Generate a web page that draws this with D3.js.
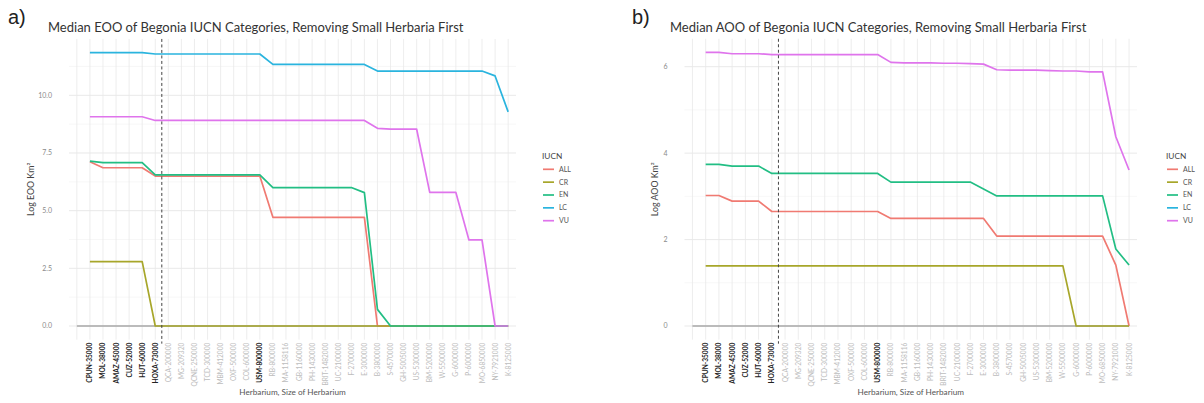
<!DOCTYPE html>
<html>
<head>
<meta charset="utf-8">
<script src="https://cdn.jsdelivr.net/npm/d3@7"></script>
<style>
  body { margin: 0; background: #fff; }
  svg { font-family: Lato, "Open Sans", sans-serif; }
</style>
</head>
<body>
<svg id="chart" width="1204" height="403"></svg>
<script>
const herbaria = ["CPUN-35000", "MOL-38000", "AMAZ-45000", "CUZ-52000", "HUT-60000", "HOXA-73000",
  "QCA-200000", "MG-209320", "QCNE-250000", "TCD-300000", "MBM-412000", "OXF-500000", "COL-600000",
  "USM-800000", "RB-800000", "MA-1158116", "GB-1160000", "PH-1430000", "BRIT-1482000", "UC-2100000",
  "F-2700000", "E-3000000", "B-3800000", "S-4570000", "GH-5005000", "US-5300000", "BM-5200000",
  "W-5500000", "G-6000000", "P-6000000", "MO-6850000", "NY-7921000", "K-8125000"];
const highlighted = ["CPUN-35000", "MOL-38000", "AMAZ-45000", "CUZ-52000", "HUT-60000", "HOXA-73000", "USM-800000"];
const cutAfter = "HOXA-73000";
const categories = ["ALL", "CR", "EN", "LC", "VU"];

// EOO medians (log km²)
const eooAll = [7.12, 6.86, 6.86, 6.86, 6.86, 6.5, 6.5, 6.5, 6.5, 6.5, 6.5, 6.5, 6.5, 6.5,
  4.71, 4.71, 4.71, 4.71, 4.71, 4.71, 4.71, 4.71, 0, 0, 0, 0, 0, 0, 0, 0, 0, 0, 0];
const eooCR = [2.79, 2.79, 2.79, 2.79, 2.79, 0, 0, 0, 0, 0, 0, 0, 0, 0, 0, 0, 0, 0, 0, 0,
  0, 0, 0, 0, 0, 0, 0, 0, 0, 0, 0, 0, 0];
const eooEN = [7.15, 7.08, 7.08, 7.08, 7.08, 6.55, 6.55, 6.55, 6.55, 6.55, 6.55, 6.55, 6.55, 6.55,
  6.0, 6.0, 6.0, 6.0, 6.0, 6.0, 6.0, 5.78, 0.72, 0, 0, 0, 0, 0, 0, 0, 0, 0, 0];
const eooLC = [11.85, 11.85, 11.85, 11.85, 11.85, 11.79, 11.79, 11.79, 11.79, 11.79, 11.79, 11.79, 11.79, 11.79,
  11.34, 11.34, 11.34, 11.34, 11.34, 11.34, 11.34, 11.34, 11.05, 11.05, 11.05, 11.05, 11.05, 11.05,
  11.05, 11.05, 11.05, 10.84, 9.28];
const eooVU = [9.07, 9.07, 9.07, 9.07, 9.07, 8.91, 8.91, 8.91, 8.91, 8.91, 8.91, 8.91, 8.91, 8.91,
  8.91, 8.91, 8.91, 8.91, 8.91, 8.91, 8.91, 8.91, 8.57, 8.53, 8.53, 8.53, 5.79, 5.79, 5.79,
  3.73, 3.73, 0, 0];
// unassigned herbarium row (grey baseline), starts one slot before CPUN
const eooNA = [0, 0, 0, 0, 0, 0, 0, 0, 0, 0, 0, 0, 0, 0, 0, 0, 0, 0, 0, 0, 0, 0, 0, 0, 0, 0, 0, 0, 0, 0, 0, 0, 0, 0];

// AOO medians (log km²)
const aooAll = [3.02, 3.02, 2.89, 2.89, 2.89, 2.65, 2.65, 2.65, 2.65, 2.65, 2.65, 2.65, 2.65, 2.65,
  2.49, 2.49, 2.49, 2.49, 2.49, 2.49, 2.49, 2.49, 2.08, 2.08, 2.08, 2.08, 2.08, 2.08, 2.08, 2.08, 2.08,
  1.41, 0];
const aooCR = [1.39, 1.39, 1.39, 1.39, 1.39, 1.39, 1.39, 1.39, 1.39, 1.39, 1.39, 1.39, 1.39, 1.39,
  1.39, 1.39, 1.39, 1.39, 1.39, 1.39, 1.39, 1.39, 1.39, 1.39, 1.39, 1.39, 1.39, 1.39, 0, 0, 0, 0, 0];
const aooEN = [3.74, 3.74, 3.70, 3.70, 3.70, 3.53, 3.53, 3.53, 3.53, 3.53, 3.53, 3.53, 3.53, 3.53,
  3.33, 3.33, 3.33, 3.33, 3.33, 3.33, 3.33, 3.17, 3.01, 3.01, 3.01, 3.01, 3.01, 3.01, 3.01, 3.01, 3.01,
  1.78, 1.41];
const aooLC = null;
const aooVU = [6.33, 6.33, 6.30, 6.30, 6.30, 6.28, 6.28, 6.28, 6.28, 6.28, 6.28, 6.28, 6.28, 6.28,
  6.10, 6.09, 6.09, 6.09, 6.08, 6.08, 6.07, 6.06, 5.93, 5.92, 5.92, 5.92, 5.91, 5.90, 5.90, 5.88, 5.88,
  4.38, 3.61];
const aooNA = [0, 0, 0, 0, 0, 0, 0, 0, 0, 0, 0, 0, 0, 0, 0, 0, 0, 0, 0, 0, 0, 0, 0, 0, 0, 0, 0, 0, 0, 0, 0, 0, 0, 0];

const eooTicks = [0, 2.5, 5, 7.5, 10];
const eooMinor = [1.25, 3.75, 6.25, 8.75, 11.25];
const aooTicks = [0, 2, 4, 6];
const aooMinor = [1, 3, 5];

const colors = d3.scaleOrdinal().domain(categories)
  .range(["#F07A72", "#A7A62A", "#22BE84", "#2AB4DE", "#DF74EC"]);

const svg = d3.select("#chart");

function drawPanel(opt) {
  const g = svg.append("g");
  const slots = [""].concat(herbaria);
  const x = d3.scalePoint().domain(slots).range([opt.left, opt.right]).padding(0.6);
  const y = d3.scaleLinear().domain([0, opt.ticks[opt.ticks.length - 1]]).range(opt.yRange);
  const maxV = d3.max(opt.series.filter(s => s.values), s => d3.max(s.values));
  const top = y(maxV * 1.05), bottom = y(-maxV * 0.05);

  // grid
  g.selectAll(".minor").data(opt.minor).join("line")
    .attr("x1", opt.left).attr("x2", opt.right)
    .attr("y1", d => y(d)).attr("y2", d => y(d))
    .attr("stroke", "#f2f2f2").attr("stroke-width", 0.6);
  g.selectAll(".major").data(opt.ticks).join("line")
    .attr("x1", opt.left).attr("x2", opt.right)
    .attr("y1", d => y(d)).attr("y2", d => y(d))
    .attr("stroke", "#e6e6e6").attr("stroke-width", 0.9);
  g.selectAll(".vgrid").data(slots).join("line")
    .attr("x1", d => x(d)).attr("x2", d => x(d))
    .attr("y1", top).attr("y2", bottom)
    .attr("stroke", "#e9e9e9").attr("stroke-width", 0.8);

  // y tick labels
  g.selectAll(".ytick").data(opt.ticks).join("text")
    .attr("x", opt.left - 17).attr("y", d => y(d)).attr("dy", "0.35em")
    .attr("text-anchor", "end").attr("font-size", 7).attr("fill", "#8a8a8a")
    .text(opt.fmt);

  // x tick labels
  g.selectAll(".xtick").data(herbaria).join("text")
    .attr("transform", d => `translate(${x(d) + 2.5},${bottom + 3}) rotate(-90)`)
    .attr("text-anchor", "end").attr("font-size", 6.6)
    .attr("font-weight", d => highlighted.includes(d) ? 700 : 400)
    .attr("fill", d => highlighted.includes(d) ? "#222" : "#bdbdbd")
    .text(d => d);

  // baseline row without category
  const line = d3.line().x(d => x(d[0])).y(d => y(d[1]));
  g.append("path")
    .attr("d", line(opt.na.map((v, i) => [slots[i], v])))
    .attr("fill", "none").attr("stroke", "#a8a8a8").attr("stroke-width", 1.7);

  opt.series.forEach(s => {
    if (!s.values) return;
    g.append("path")
      .attr("d", line(s.values.map((v, i) => [herbaria[i], v])))
      .attr("fill", "none").attr("stroke", colors(s.key))
      .attr("stroke-width", 1.7).attr("stroke-linejoin", "round");
  });

  // cut-off marker
  const cx = (x(cutAfter) + x(herbaria[herbaria.indexOf(cutAfter) + 1])) / 2;
  g.append("line")
    .attr("x1", cx).attr("x2", cx).attr("y1", top).attr("y2", bottom + 4)
    .attr("stroke", "#444").attr("stroke-width", 1).attr("stroke-dasharray", "3,2.5");

  // titles
  g.append("text").attr("x", opt.tagX).attr("y", 24).attr("font-size", 20)
    .attr("font-family", "Liberation Sans, Arial, sans-serif").attr("fill", "#222").text(opt.tag);
  g.append("text").attr("x", opt.titleX).attr("y", 32).attr("font-size", 13)
    .attr("fill", "#333").text(opt.title);
  g.append("text")
    .attr("transform", `translate(${opt.yTitleX},${(top + bottom) / 2}) rotate(-90)`)
    .attr("text-anchor", "middle").attr("font-size", 8.8).attr("fill", "#444")
    .text(opt.yTitle);
  g.append("text").attr("x", (opt.left + opt.right) / 2).attr("y", 395)
    .attr("text-anchor", "middle").attr("font-size", 8.2).attr("fill", "#555")
    .text("Herbarium, Size of Herbarium");

  // legend
  const lg = g.append("g").attr("transform", `translate(${opt.legendX},0)`);
  lg.append("text").attr("x", 0).attr("y", 159).attr("font-size", 8.3).attr("fill", "#444").text("IUCN");
  const rows = lg.selectAll(".row").data(categories).join("g")
    .attr("transform", (d, i) => `translate(0,${169.3 + i * 12.85})`);
  rows.append("line").attr("x1", 1).attr("x2", 12).attr("stroke", d => colors(d)).attr("stroke-width", 1.7);
  rows.append("text").attr("x", 17).attr("dy", "0.35em").attr("font-size", 7).attr("fill", "#555").text(d => d);
}

drawPanel({
  left: 69, right: 516, yRange: [326, 95.3], ticks: eooTicks, minor: eooMinor,
  fmt: d3.format(".1f"),
  series: [{ key: "ALL", values: eooAll }, { key: "CR", values: eooCR }, { key: "EN", values: eooEN },
    { key: "LC", values: eooLC }, { key: "VU", values: eooVU }],
  na: eooNA, tag: "a)", tagX: 8, title: "Median EOO of Begonia IUCN Categories, Removing Small Herbaria First",
  titleX: 48, yTitle: "Log EOO Km²", yTitleX: 34, legendX: 542
});

drawPanel({
  left: 684.5, right: 1137, yRange: [326, 66.7], ticks: aooTicks, minor: aooMinor,
  fmt: d3.format("d"),
  series: [{ key: "ALL", values: aooAll }, { key: "CR", values: aooCR }, { key: "EN", values: aooEN },
    { key: "LC", values: aooLC }, { key: "VU", values: aooVU }],
  na: aooNA, tag: "b)", tagX: 632, title: "Median AOO of Begonia IUCN Categories, Removing Small Herbaria First",
  titleX: 670, yTitle: "Log AOO Km²", yTitleX: 658, legendX: 1166
});
</script>
</body>
</html>
